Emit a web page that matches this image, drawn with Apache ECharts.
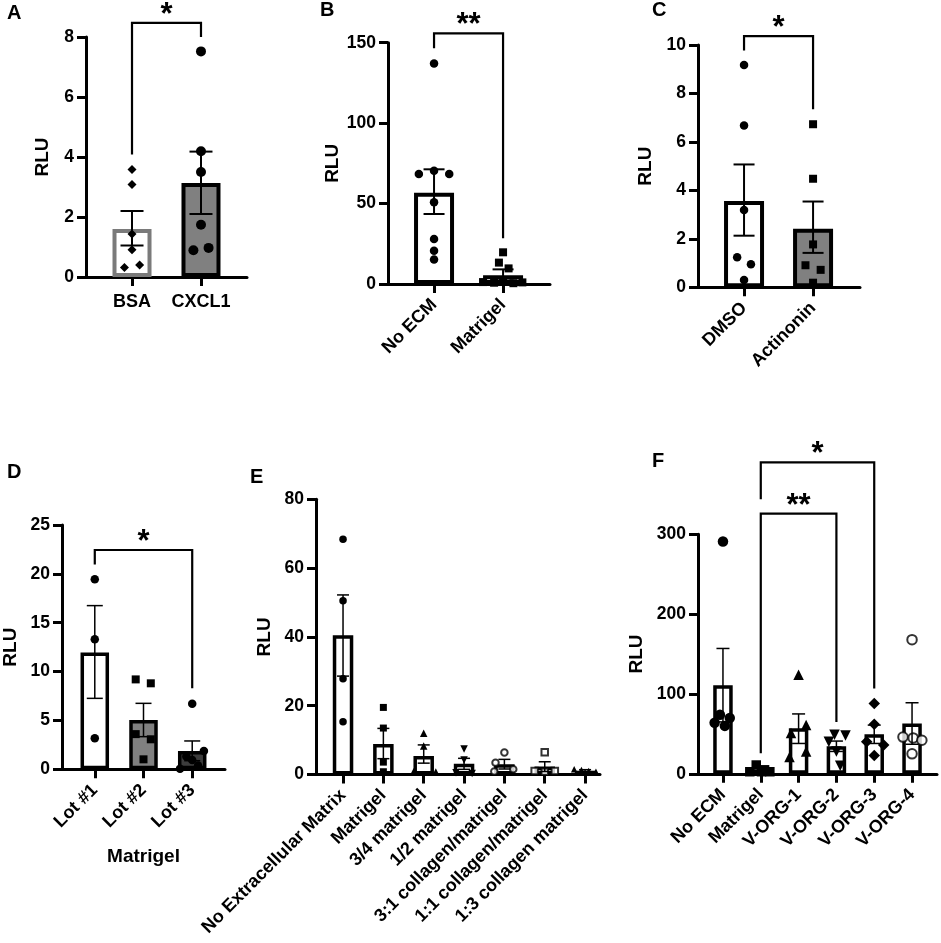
<!DOCTYPE html>
<html><head><meta charset="utf-8">
<script src="https://cdn.jsdelivr.net/npm/echarts@6/dist/echarts.min.js"></script>
<style>html,body{margin:0;padding:0;background:#fff}#c{width:941px;height:943px}</style>
</head><body><div id="c"></div>
<script>
// ================= DATA =================
// Panel A
const aCats = ['BSA', 'CXCL1'];
const aMeans = [1.6, 3.13];
const aErrLow = [1.05, 2.1];
const aErrHigh = [2.2, 4.18];
const aPoints = [[3.58, 3.08, 1.43, 0.91, 0.32, 0.40], [7.52, 4.19, 3.5, 1.74, 0.89, 0.97]];
const aYTicks = [0, 2, 4, 6, 8];
const aSig = [[0, 1, 8.47, 4.08, 8.0]];
const aSigLabels = ['*'];

// Panel B
const bCats = ['No ECM', 'Matrigel'];
const bMeans = [56.8, 5.4];
const bErrLow = [43.5, 2.2];
const bErrHigh = [71.3, 9.1];
const bPoints = [[137, 68.4, 70.4, 68.4, 50.8, 28, 20.7, 15.3], [19.7, 13.3, 9.7, 1.2, 0.8, 1.5, 0.5, 1.0]];
const bYTicks = [0, 50, 100, 150];
const bSig = [[0, 1, 155.8, 146.5, 28.4]];
const bSigLabels = ['**'];

// Panel C
const cCats = ['DMSO', 'Actinonin'];
const cMeans = [3.56, 2.42];
const cErrLow = [2.13, 1.42];
const cErrHigh = [5.07, 3.54];
const cPoints = [[9.17, 6.68, 3.19, 1.24, 0.95, 0.3], [6.73, 4.48, 1.77, 0.91, 0.72, 0.19]];
const cYTicks = [0, 2, 4, 6, 8, 10];
const cSig = [[0, 1, 10.37, 9.77, 7.35]];
const cSigLabels = ['*'];

// Panel D
const dCats = ['Lot #1', 'Lot #2', 'Lot #3'];
const dMeans = [11.94, 5.05, 1.88];
const dErrLow = [7.26, 3.34, 0.88];
const dErrHigh = [16.75, 6.75, 2.9];
const dPoints = [[19.44, 13.3, 3.17], [9.2, 8.8, 3.6, 3.07, 1.02], [6.7, 1.88, 0.95, 0.05, 1.3, 0.4]];
const dYTicks = [0, 5, 10, 15, 20, 25];
const dSig = [[0, 2, 22.44, 20.97, 8.29]];
const dSigLabels = ['*'];
const dXName = 'Matrigel';

// Panel E
const eCats = ['No Extracellular Matrix', 'Matrigel', '3/4 matrigel', '1/2 matrigel',
  '3:1 collagen/matrigel', '1:1 collagen/matrigel', '1:3 collagen matrigel'];
const eMeans = [40.5, 8.9, 5.4, 3.1, 3.0, 2.3, 1.1];
const eErrLow = [28.6, 4.6, 3.3, 1.5, 1.6, 0.9, 0.8];
const eErrHigh = [52.2, 13.4, 8.6, 4.7, 4.4, 3.7, 1.4];
const ePoints = [[68.4, 50.5, 27.8, 15.35], [19.5, 13.5, 3.6, 0.8], [12.0, 8.3, 0.8, 0.7],
  [7.4, 4.2, 0.5, 0.3], [6.4, 3.4, 1.5, 0.9], [6.45, 1.0, 0.8, 1.0], [1.5, 1.3, 1.0, 0.8]];
const eYTicks = [0, 20, 40, 60, 80];
const eSig = [];
const eSigLabels = [];

// Panel F
const fCats = ['No ECM', 'Matrigel', 'V-ORG-1', 'V-ORG-2', 'V-ORG-3', 'V-ORG-4'];
const fMeans = [111, 5, 57, 34.5, 49.5, 63];
const fErrLow = [65, 3, 38, 28, 38, 37];
const fErrHigh = [157, 7, 75, 41, 61, 89];
const fPoints = [[291, 74, 70, 64, 60], [11, 2.6, 2.6, 2.6, 5], [124, 61, 51, 28, 21],
  [49, 48, 40, 28, 10], [88, 62, 40, 36, 23], [168, 46, 45, 42, 25]];
const fYTicks = [0, 100, 200, 300];
const fSig = [[1, 4, 390, 344, 107], [1, 3, 326, 25.7, 65]];
const fSigLabels = ['*', '**'];

// ================= LAYOUT / STYLE =================
const FONT = '"Liberation Sans", Arial, Helvetica, sans-serif';
const aJit = [[0, 0, 0, 0, -0.11, 0.11], [0, 0, 0, 0, -0.11, 0.11]];
const bJit = [[0, -0.22, 0, 0.22, 0, 0, 0, 0], [0, -0.06, 0.08, -0.29, -0.13, 0, 0.15, 0.28]];
const cJit = [[0, 0, 0, -0.1, 0.1, 0], [0, 0, 0, -0.11, 0.11, 0]];
const dJit = [[0, 0, 0], [-0.16, 0.15, -0.16, 0.15, 0], [0, 0.24, 0, -0.25, -0.12, 0.12]];
const eJit = [[0, 0, 0, 0], [0, 0, 0, 0], [0, 0, -0.25, 0.3], [0, 0, -0.2, 0.2],
  [0, -0.22, 0.22, -0.25], [0, -0.25, 0, 0.25], [-0.27, -0.09, 0.09, 0.27]];
const fJit = [[0, -0.08, 0.18, -0.22, 0.05], [-0.12, -0.29, 0.02, 0.24, 0.1], [0, 0.2, -0.2, 0.2, -0.24],
  [-0.05, 0.24, -0.2, 0, 0.1], [0, 0, -0.2, 0.25, 0], [0, -0.24, 0.03, 0.26, 0]];

const panels = [
  {letter: 'A', lpos: [7, 13.5], cats: aCats, means: aMeans, lo: aErrLow, hi: aErrHigh, pts: aPoints, jit: aJit,
   ticks: aYTicks, sig: aSig, sigLab: aSigLabels, box: {l: 86, r: 247, t: 37, b: 277}, xr: [-0.667, 1.667],
   barW: 39, bw: 4, cap: 11.5, errW: 2, fill: ['#fff', '#808080'], stroke: ['#7a7a7a', '#000'],
   sym: ['diamond', 'circle'], symSize: [9, 10], rot: 0, lmargin: 16, nameGap: 34},
  {letter: 'B', lpos: [320, 10], cats: bCats, means: bMeans, lo: bErrLow, hi: bErrHigh, pts: bPoints, jit: bJit,
   ticks: bYTicks, sig: bSig, sigLab: bSigLabels, box: {l: 388, r: 550, t: 42.7, b: 284}, xr: [-0.667, 1.68],
   barW: 40, bw: 4, cap: 10.5, errW: 2, fill: ['#fff', '#fff'], stroke: ['#000', '#000'],
   sym: ['circle', 'rect'], symSize: [8.5, 8], rot: 45, lmargin: 18, nameGap: 46},
  {letter: 'C', lpos: [652, 10.5], cats: cCats, means: cMeans, lo: cErrLow, hi: cErrHigh, pts: cPoints, jit: cJit,
   ticks: cYTicks, sig: cSig, sigLab: cSigLabels, box: {l: 698, r: 860, t: 45, b: 287.3}, xr: [-0.667, 1.68],
   barW: 40, bw: 4, cap: 10.5, errW: 2, fill: ['#fff', '#808080'], stroke: ['#000', '#000'],
   sym: ['circle', 'rect'], symSize: [8.5, 8], rot: 45, lmargin: 18, nameGap: 43},
  {letter: 'D', lpos: [7, 472], cats: dCats, means: dMeans, lo: dErrLow, hi: dErrHigh, pts: dPoints, jit: dJit,
   ticks: dYTicks, sig: dSig, sigLab: dSigLabels, box: {l: 61, r: 225, t: 525, b: 769.3}, xr: [-0.673, 2.673],
   barW: 28.5, bw: 3.5, cap: 8, errW: 1.5, fill: ['#fff', '#808080', '#3c3c3c'], stroke: ['#000', '#000', '#000'],
   sym: ['circle', 'rect', 'circle'], symSize: [8.5, 8, 8.5], rot: 45, lmargin: 18, nameGap: 42, xName: dXName},
  {letter: 'E', lpos: [250, 477], cats: eCats, means: eMeans, lo: eErrLow, hi: eErrHigh, pts: ePoints, jit: eJit,
   ticks: eYTicks, sig: eSig, sigLab: eSigLabels, box: {l: 316, r: 600, t: 499.3, b: 774.5}, xr: [-0.67, 6.37],
   barW: 20.5, bw: 3.5, cap: 6, errW: 1.5, fill: ['#fff', '#fff', '#fff', '#fff', '#fff', '#fff', '#fff'],
   stroke: ['#000', '#000', '#000', '#000', '#000', '#000', '#000'],
   sym: ['circle', 'rect', 'triangle', 'triangle', 'emptyCircle', 'emptyRect', 'triangle'],
   symRot: [0, 0, 0, 180, 0, 0, 0], symSize: [7.5, 7, 7.5, 7.5, 6.5, 6.5, 6.5], rot: 45, lmargin: 18, nameGap: 42},
  {letter: 'F', lpos: [652, 461], cats: fCats, means: fMeans, lo: fErrLow, hi: fErrHigh, pts: fPoints, jit: fJit,
   ticks: fYTicks, sig: fSig, sigLab: fSigLabels, box: {l: 698, r: 937, t: 534.3, b: 773.8}, xr: [-0.66, 5.66],
   barW: 19.5, bw: 3.5, cap: 6.5, errW: 1.5, fill: ['#fff', '#fff', '#fff', '#fff', '#fff', '#fff'],
   stroke: ['#000', '#000', '#000', '#000', '#000', '#000'],
   sym: ['circle', 'rect', 'triangle', 'triangle', 'diamond', 'emptyCircle'],
   symRot: [0, 0, 0, 180, 0, 0], symSize: [10.5, 9.5, 10.5, 10.5, 11.5, 9.5], rot: 45, lmargin: 18, nameGap: 52}
];

const grid = [], xAxis = [], yAxis = [], series = [], graphic = [];
panels.forEach((p, i) => {
  const idx = p.cats.map((c, k) => k);
  grid.push({left: p.box.l, top: p.box.t, width: p.box.r - p.box.l, height: p.box.b - p.box.t, containLabel: false});
  xAxis.push({
    gridIndex: i, type: 'value', min: p.xr[0], max: p.xr[1],
    axisLine: {show: true, onZero: false, lineStyle: {color: '#000', width: 3}},
    axisTick: {show: true, customValues: idx, length: 9, lineStyle: {color: '#000', width: 3}},
    axisLabel: {customValues: idx, formatter: v => p.cats[Math.round(v)], rotate: p.rot, margin: p.lmargin,
      color: '#000', fontFamily: FONT, fontWeight: 'bold', fontSize: 18},
    splitLine: {show: false},
    name: p.xName || '', nameLocation: 'middle', nameGap: 78,
    nameTextStyle: {color: '#000', fontFamily: FONT, fontWeight: 'bold', fontSize: 19}
  });
  yAxis.push({
    gridIndex: i, type: 'value', min: p.ticks[0], max: p.ticks[p.ticks.length - 1], interval: p.ticks[1] - p.ticks[0],
    axisLine: {show: true, onZero: false, lineStyle: {color: '#000', width: 3}},
    axisTick: {show: true, length: 9, lineStyle: {color: '#000', width: 3}},
    axisLabel: {color: '#000', fontFamily: FONT, fontWeight: 'bold', fontSize: 17.5, margin: 12},
    splitLine: {show: false},
    name: 'RLU', nameLocation: 'middle', nameGap: p.nameGap,
    nameTextStyle: {color: '#000', fontFamily: FONT, fontWeight: 'bold', fontSize: 19}
  });
  // bars
  series.push({
    type: 'bar', xAxisIndex: i, yAxisIndex: i, barWidth: p.barW, z: 2, silent: true,
    data: p.means.map((m, k) => ({value: [k, m], itemStyle: {color: p.fill[k], borderColor: p.stroke[k], borderWidth: p.bw}}))
  });
  // points
  p.pts.forEach((arr, k) => {
    const empty = p.sym[k].indexOf('empty') === 0;
    series.push({
      type: 'scatter', xAxisIndex: i, yAxisIndex: i, z: 4, silent: true,
      symbol: p.sym[k], symbolSize: p.symSize[k], symbolRotate: p.symRot ? p.symRot[k] : 0,
      itemStyle: empty ? {color: '#000', borderColor: '#000', borderWidth: 2} : {color: '#000', opacity: 1},
      data: arr.map((v, j) => [k + p.jit[k][j], v])
    });
  });
  // error bars
  series.push({
    type: 'custom', xAxisIndex: i, yAxisIndex: i, z: 5, silent: true,
    data: p.means.map((m, k) => [k, p.lo[k], p.hi[k]]),
    renderItem: (params, api) => {
      const x = api.value(0);
      const a = api.coord([x, api.value(1)]), b = api.coord([x, api.value(2)]);
      const st = {stroke: '#000', lineWidth: p.errW};
      return {type: 'group', children: [
        {type: 'line', shape: {x1: a[0], y1: a[1], x2: b[0], y2: b[1]}, style: st},
        {type: 'line', shape: {x1: a[0] - p.cap, y1: a[1], x2: a[0] + p.cap, y2: a[1]}, style: st},
        {type: 'line', shape: {x1: b[0] - p.cap, y1: b[1], x2: b[0] + p.cap, y2: b[1]}, style: st}
      ]};
    }
  });
  // significance brackets
  if (p.sig.length) {
    series.push({
      type: 'custom', xAxisIndex: i, yAxisIndex: i, z: 6, silent: true, clip: false,
      data: p.sig,
      renderItem: (params, api) => {
        const x1 = api.value(0), x2 = api.value(1), top = api.value(2);
        const pL = api.coord([x1, api.value(3)]), pTL = api.coord([x1, top]);
        const pTR = api.coord([x2, top]), pR = api.coord([x2, api.value(4)]);
        return {type: 'group', children: [
          {type: 'polyline', shape: {points: [pL, pTL, pTR, pR]}, style: {stroke: '#000', lineWidth: 2.2, fill: null}},
          {type: 'text', x: (pTL[0] + pTR[0]) / 2, y: pTL[1] - 7.5,
           style: {text: p.sigLab[params.dataIndex], fontSize: 31, fontWeight: 'bold', fontFamily: FONT,
                   fill: '#000', align: 'center', verticalAlign: 'middle'}}
        ]};
      }
    });
  }
  graphic.push({type: 'text', left: p.lpos[0], top: p.lpos[1] - 10,
    style: {text: p.letter, fontSize: 20, fontWeight: 'bold', fontFamily: FONT, fill: '#000'}});
});

const chart = echarts.init(document.getElementById('c'), null, {renderer: 'canvas'});
chart.setOption({
  backgroundColor: '#fff', animation: false,
  textStyle: {fontFamily: FONT},
  grid, xAxis, yAxis, series, graphic
});
</script>
</body></html>
